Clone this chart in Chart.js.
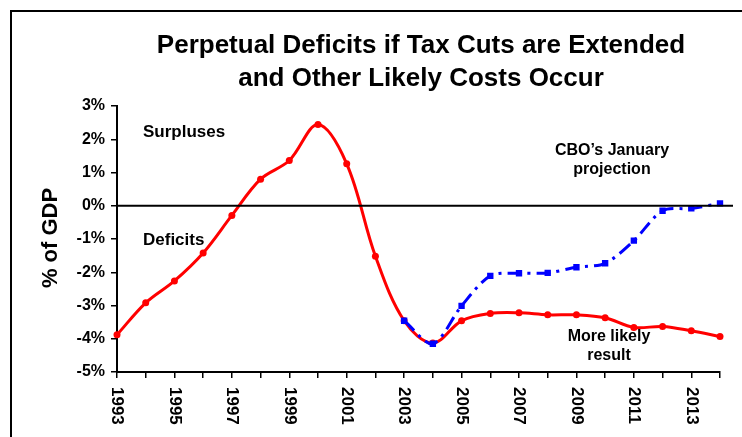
<!DOCTYPE html>
<html>
<head>
<meta charset="utf-8">
<script src="https://cdn.jsdelivr.net/npm/chart.js@4/dist/chart.umd.min.js"></script>
<style>
  html, body { margin: 0; padding: 0; background: #fff; }
  #wrap { width: 742px; height: 437px; }
</style>
</head>
<body>
<div id="wrap"><canvas id="chart"></canvas></div>
<script>
const years = ['1993','1994','1995','1996','1997','1998','1999','2000','2001','2002','2003',
               '2004','2005','2006','2007','2008','2009','2010','2011','2012','2013','2014'];
const xTickLabels = ['1993','1995','1997','1999','2001','2003','2005','2007','2009','2011','2013'];

// More likely result (% of GDP)
const likelyResult = [-3.88, -2.92, -2.26, -1.42, -0.29, 0.80, 1.36, 2.44, 1.26, -1.52, -3.46,
                      -4.13, -3.46, -3.24, -3.22, -3.28, -3.28, -3.37, -3.66, -3.63, -3.76, -3.93];
// CBO's January projection (starts 2003)
const cboProjection = [null, null, null, null, null, null, null, null, null, null, -3.46,
                       -4.15, -3.01, -2.11, -2.03, -2.02, -1.85, -1.73, -1.05, -0.15, -0.08, 0.07];

const FONT = '"Liberation Sans", Arial, sans-serif';

const decorations = {
    id: 'decorations',
    afterDraw(chart) {
        const ctx = chart.ctx;
        const area = chart.chartArea;
        const x = chart.scales.x;
        const y = chart.scales.y;
        ctx.save();

        // outer frame
        ctx.strokeStyle = '#000';
        ctx.lineWidth = 2;
        ctx.beginPath();
        ctx.moveTo(11, 437);
        ctx.lineTo(11, 11);
        ctx.lineTo(742, 11);
        ctx.stroke();

        // zero line
        const y0 = y.getPixelForValue(0);
        ctx.beginPath();
        ctx.moveTo(area.left, y0);
        ctx.lineTo(area.right + 13, y0);
        ctx.stroke();

        ctx.fillStyle = '#000';
        // title
        ctx.font = 'bold 26px ' + FONT;
        ctx.textAlign = 'center';
        ctx.textBaseline = 'middle';
        ctx.fillText('Perpetual Deficits if Tax Cuts are Extended', 421, 46);
        ctx.fillText('and Other Likely Costs Occur', 421, 79);

        // annotations
        ctx.font = 'bold 17px ' + FONT;
        ctx.textAlign = 'left';
        ctx.fillText('Surpluses', 143, 132);
        ctx.fillText('Deficits', 143, 240);
        ctx.textAlign = 'center';
        ctx.font = 'bold 16px ' + FONT;
        ctx.fillText('CBO\u2019s January', 612, 151);
        ctx.fillText('projection', 612, 170);
        ctx.fillText('More likely', 609, 337);
        ctx.fillText('result', 609, 356);

        // y axis title
        ctx.save();
        ctx.translate(51, 238);
        ctx.rotate(-Math.PI / 2);
        ctx.font = 'bold 22px ' + FONT;
        ctx.textAlign = 'center';
        ctx.fillText('% of GDP', 0, 0);
        ctx.restore();

        // x tick labels, rotated clockwise
        ctx.font = 'bold 17px ' + FONT;
        ctx.textAlign = 'left';
        ctx.textBaseline = 'middle';
        xTickLabels.forEach(label => {
            const px = x.getPixelForValue(years.indexOf(label));
            ctx.save();
            ctx.translate(px, area.bottom + 15);
            ctx.rotate(Math.PI / 2);
            ctx.fillText(label, 0, 0);
            ctx.restore();
        });

        ctx.restore();
    }
};

new Chart(document.getElementById('chart'), {
    type: 'line',
    data: {
        labels: years,
        datasets: [{
            label: "CBO's January projection",
            data: cboProjection,
            borderColor: '#0000ff',
            backgroundColor: '#0000ff',
            borderWidth: 3,
            borderDash: [14, 6, 3, 6],
            pointStyle: 'rect',
            pointRadius: 4.5,
            pointBorderWidth: 0,
            tension: 0.3,
            spanGaps: false
        }, {
            label: 'More likely result',
            data: likelyResult,
            borderColor: '#ff0000',
            backgroundColor: '#ff0000',
            borderWidth: 3,
            pointRadius: 3.5,
            pointBorderWidth: 0,
            tension: 0.35
        }]
    },
    options: {
        responsive: true,
        maintainAspectRatio: false,
        animation: false,
        devicePixelRatio: 1,
        layout: { padding: { top: 106, right: 22, bottom: 0, left: 0 } },
        plugins: {
            legend: { display: false },
            title: { display: false },
            tooltip: { enabled: false }
        },
        scales: {
            x: {
                offset: false,
                grid: { drawOnChartArea: false, drawTicks: true, tickLength: 6, color: '#000', lineWidth: 1.5 },
                border: { display: true, color: '#000', width: 2 },
                ticks: { display: false },
                afterFit: s => { s.height = 65; }
            },
            y: {
                min: -5,
                max: 3,
                grid: { drawOnChartArea: false, drawTicks: true, tickLength: 6, color: '#000', lineWidth: 1.5 },
                border: { display: true, color: '#000', width: 2 },
                ticks: {
                    stepSize: 1,
                    padding: 6,
                    color: '#000',
                    font: { family: FONT, size: 16, weight: 'bold' },
                    callback: v => v + '%'
                },
                afterFit: s => { s.width = 117; }
            }
        }
    },
    plugins: [decorations]
});
</script>
</body>
</html>
